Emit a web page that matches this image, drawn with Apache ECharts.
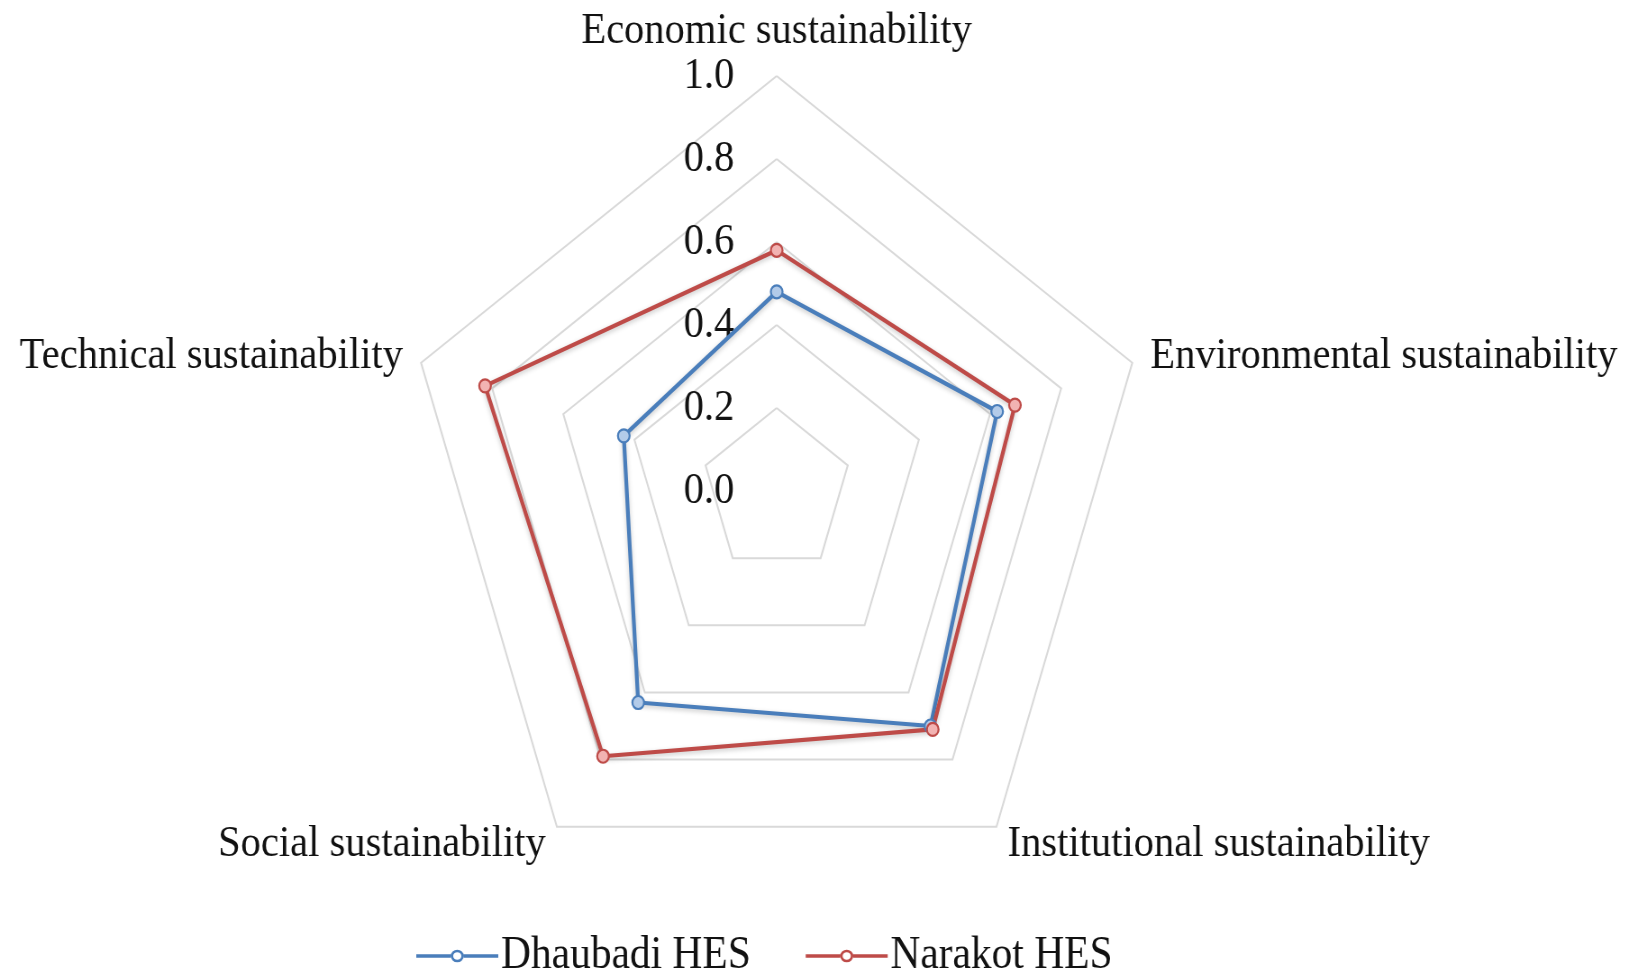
<!DOCTYPE html>
<html>
<head>
<meta charset="utf-8">
<title>Sustainability radar</title>
<script src="https://cdn.jsdelivr.net/npm/echarts@6/dist/echarts.min.js"></script>
<style>
  html, body { margin: 0; padding: 0; background: #ffffff; overflow: hidden; }
  /* the plot is drawn wide and narrowed horizontally to give the pentagon its tall proportions */
  #chart { width: 1828px; height: 972px; transform: scaleX(0.901); transform-origin: 0 0; }
</style>
</head>
<body>
<div id="chart"></div>
<script>
// Indicators in drawing order (counter-clockwise from the top)
const dimensions = [
  'Economic sustainability',
  'Technical sustainability',
  'Social sustainability',
  'Institutional sustainability',
  'Environmental sustainability'
];
const seriesNames = ['Dhaubadi HES', 'Narakot HES'];
const dhaubadiValues = [0.48, 0.43, 0.63, 0.70, 0.62];
const narakotValues  = [0.58, 0.82, 0.79, 0.71, 0.67];
const tickLabels = ['0.0', '0.2', '0.4', '0.6', '0.8', '1.0'];

const lineColors = ['#4a7ebb', '#be4b48'];
const markerFills = ['#b3cbe9', '#f2b3b2'];
const textColor = '#111111';
const serif = '"Liberation Serif", "DejaVu Serif", serif';

const chart = echarts.init(document.getElementById('chart'), null, { renderer: 'canvas' });

// legend glyph: a thick line broken by a hollow circle
const legendIcon = 'path://M0,6.2H42V9.8H0Z M58,6.2H100V9.8H58Z ' +
  'M42,8A8,7 0 1,1 58,8A8,7 0 1,1 42,8Z M45,8A5,4.2 0 1,0 55,8A5,4.2 0 1,0 45,8Z';

const values = [dhaubadiValues, narakotValues];

chart.setOption({
  animation: false,
  backgroundColor: '#ffffff',
  legend: {
    left: 457,
    top: 928,
    icon: legendIcon,
    itemWidth: 91,
    itemHeight: 16,
    itemGap: 61,
    textStyle: { fontFamily: serif, fontSize: 46, color: textColor, padding: [0, 0, 0, -2] },
    data: seriesNames.map((n, i) => ({
      name: n,
      itemStyle: { color: lineColors[i], borderWidth: 0 }
    }))
  },
  radar: {
    center: [862, 491],
    radius: 415,
    startAngle: 90,
    shape: 'polygon',
    splitNumber: 5,
    nameGap: 21,
    axisName: { fontFamily: serif, fontSize: 45, color: textColor },
    axisLine: { show: false },
    axisTick: { show: false },
    splitArea: { show: false },
    splitLine: { lineStyle: { color: '#d9d9d9', width: 2 } },
    axisLabel: {
      fontFamily: serif,
      fontSize: 45,
      color: textColor,
      margin: 47,
      hideOverlap: false,
      formatter: v => tickLabels[Math.round(v / 0.2)]
    },
    indicator: dimensions.map((d, i) => ({
      name: d,
      min: 0,
      max: 1,
      axisLabel: { show: i === 0 }
    }))
  },
  series: [{
    type: 'radar',
    symbol: 'circle',
    symbolSize: 13,
    data: seriesNames.map((n, i) => ({
      name: n,
      value: values[i],
      lineStyle: {
        color: lineColors[i], width: 4.2,
        shadowColor: 'rgba(0,0,0,0.22)', shadowBlur: 5, shadowOffsetY: 2
      },
      itemStyle: { color: markerFills[i], borderColor: lineColors[i], borderWidth: 2.2 }
    }))
  }]
});
</script>
</body>
</html>
